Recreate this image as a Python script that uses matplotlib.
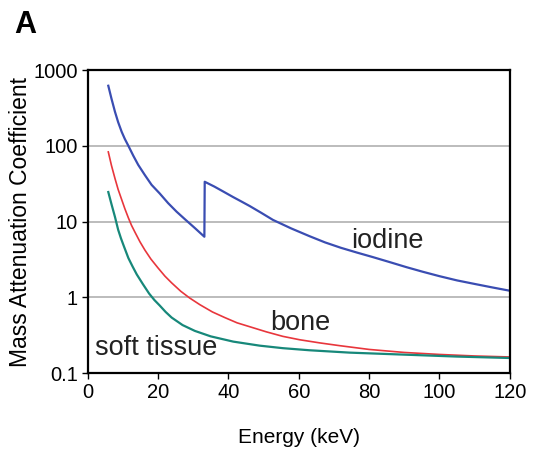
import matplotlib
matplotlib.use("Agg")
import matplotlib.pyplot as plt

plt.rcParams.update({
    "font.family": ["Liberation Sans", "DejaVu Sans"],
    "font.size": 14,
})

# mass attenuation coefficient vs photon energy
iod_lo_e = [5.9, 6.8, 7.8, 8.7, 9.7, 10.6, 11.6, 13, 14.4, 16.3, 18.2, 20.5,
            22.9, 25.3, 27.7, 30.5, 33.2]
iod_lo_mu = [620, 420, 281, 205, 153, 123, 100, 74, 56, 41, 30.5, 23.5,
             17.5, 13.5, 10.7, 8.2, 6.3]
iod_hi_e = [33.3, 36, 38.5, 41.4, 43.8, 46.1, 49.4, 52.7, 57.9, 63.1, 67.5,
            72, 76.5, 81, 85.8, 90.6, 95.3, 100, 105, 110, 115, 120]
iod_hi_mu = [33.5, 29, 25, 21, 18.3, 16, 13, 10.5, 8.1, 6.4, 5.3,
             4.5, 3.9, 3.4, 2.92, 2.5, 2.17, 1.9, 1.67, 1.5, 1.35, 1.22]

bone_e = [5.9, 6.8, 7.8, 8.7, 9.7, 10.6, 11.6, 12.5, 13.5, 14.9, 16.3, 18, 20,
          22, 23.9, 26.5, 29, 31.9, 35.5, 39, 42.5, 46, 50.8, 55.5, 60.3, 66,
          71.6, 80, 90, 100, 110, 120]
bone_mu = [83, 55, 37, 26.5, 19.5, 14.8, 11.2, 8.9, 7.2, 5.4, 4.2, 3.2, 2.45,
           1.9, 1.55, 1.2, 0.98, 0.8, 0.64, 0.54, 0.46, 0.41, 0.35, 0.305, 0.275,
           0.25, 0.23, 0.205, 0.187, 0.176, 0.168, 0.163]

soft_e = [5.9, 6.8, 7.8, 8.7, 9.5, 10.2, 11.6, 12.8, 14, 15.7, 17.5, 19, 20.5,
          22.2, 23.9, 27, 30.5, 35, 41.4, 48.9, 55.5, 63, 74.5, 90, 105, 120]
soft_mu = [24.5, 17, 11.5, 7.8, 6.0, 4.9, 3.3, 2.55, 2.0, 1.5, 1.12, 0.92, 0.78,
           0.64, 0.54, 0.43, 0.36, 0.305, 0.26, 0.23, 0.213, 0.2, 0.186, 0.175,
           0.165, 0.158]

yticks = [0.1, 1, 10, 100, 1000]
ytick_labels = ["0.1", "1", "10", "100", "1000"]
xticks = [0, 20, 40, 60, 80, 100, 120]

BLUE = "#3a4db2"
RED = "#e8363c"
TEAL = "#17887a"

fig = plt.figure(figsize=(5.35, 4.5), dpi=100)
ax = fig.add_axes([0.1636, 0.171, 0.953 - 0.1636, 0.8444 - 0.171])

ax.plot(iod_lo_e + iod_hi_e, iod_lo_mu + iod_hi_mu, color=BLUE, lw=1.6)
ax.plot(bone_e, bone_mu, color=RED, lw=1.2)
ax.plot(soft_e, soft_mu, color=TEAL, lw=1.6)

ax.set_yscale("log")
ax.set_ylim(0.1, 1000)
ax.set_xlim(0, 120)
ax.set_yticks(yticks)
ax.set_yticklabels(ytick_labels)
ax.minorticks_off()
ax.set_xticks(xticks)
for v in [1, 10, 100]:
    ax.axhline(v, color="#b0b0b0", lw=1.2, zorder=0)

for s in ax.spines.values():
    s.set_linewidth(1.6)
ax.tick_params(direction="out", length=4, width=1, labelsize=14.5, pad=3)

ax.set_xlabel("Energy (keV)", fontsize=15, labelpad=19)
ax.set_ylabel("Mass Attenuation Coefficient", fontsize=16.5, labelpad=1)

ax.text(85.2, 4.46, "iodine", fontsize=19.5, ha="center", va="baseline", color="#222222")
ax.text(60.5, 0.367, "bone", fontsize=19.5, ha="center", va="baseline", color="#222222")
ax.text(19.4, 0.172, "soft tissue", fontsize=19.5, ha="center", va="baseline", color="#222222")

fig.text(14 / 535, 1 - 33 / 450, "A", fontsize=22, fontweight="bold")

fig.savefig("out.png", dpi=100)
